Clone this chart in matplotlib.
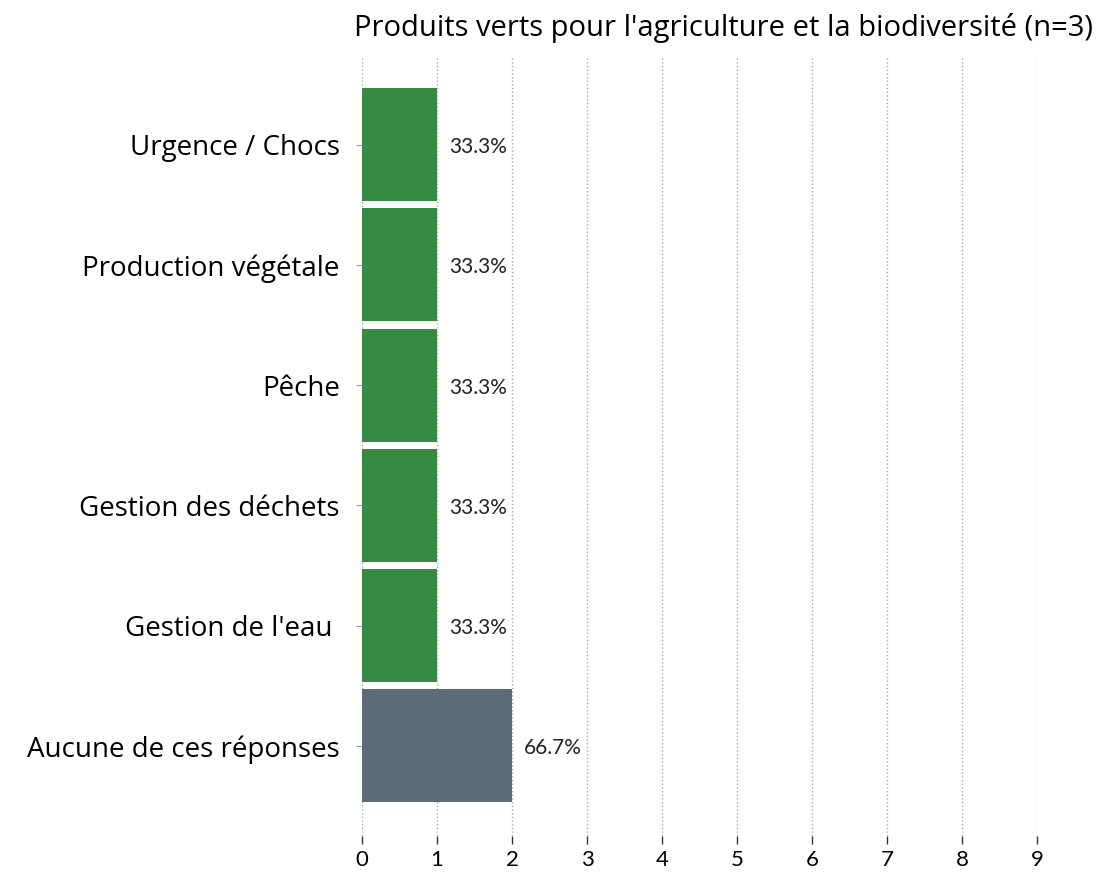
import matplotlib.pyplot as plt

# Data
categories = ['Urgence / Chocs', 'Production végétale', 'Pêche',
              'Gestion des déchets', "Gestion de l'eau ", 'Aucune de ces réponses']
counts = [1, 1, 1, 1, 1, 2]
pct_labels = ['33.3%', '33.3%', '33.3%', '33.3%', '33.3%', '66.7%']
bar_colors = ['#378a41'] * 5 + ['#5c6b7a']
xticks = list(range(10))

fig = plt.figure(figsize=(11.02, 8.72), dpi=100)
ax = fig.add_axes([362 / 1102, (872 - 836) / 872, (1037 - 362) / 1102, (836 - 57) / 872])

y = list(range(len(categories)))
ax.barh(y, counts, height=0.94, color=bar_colors, zorder=2)

for yi, c, lab in zip(y, counts, pct_labels):
    ax.text(c + 0.16, yi + 0.02, lab, va='center', ha='left',
            fontsize=15, family='Lato', color='#222222', zorder=3)

ax.set_xlim(0, 9)
ax.set_ylim(5.75, -0.73)
ax.set_xticks(xticks)
ax.set_xticklabels([str(t) for t in xticks], fontsize=16, family='Lato')
ax.set_yticks(y)
ax.set_yticklabels(categories, fontsize=20, family='Open Sans')

ax.tick_params(axis='x', length=6, width=1, color='#333333', pad=4)
ax.tick_params(axis='y', length=4, width=0.8, color='#999999', pad=12)
ax.xaxis.grid(True, linestyle=':', color='#aaaaaa', linewidth=1, zorder=0)
ax.set_axisbelow(True)
for s in ax.spines.values():
    s.set_visible(False)

fig.text(723 / 1102, 1 - 28 / 872, "Produits verts pour l'agriculture et la biodiversité (n=3)",
         ha='center', va='center', fontsize=21, family='Open Sans')

fig.savefig('out.png', dpi=100)
